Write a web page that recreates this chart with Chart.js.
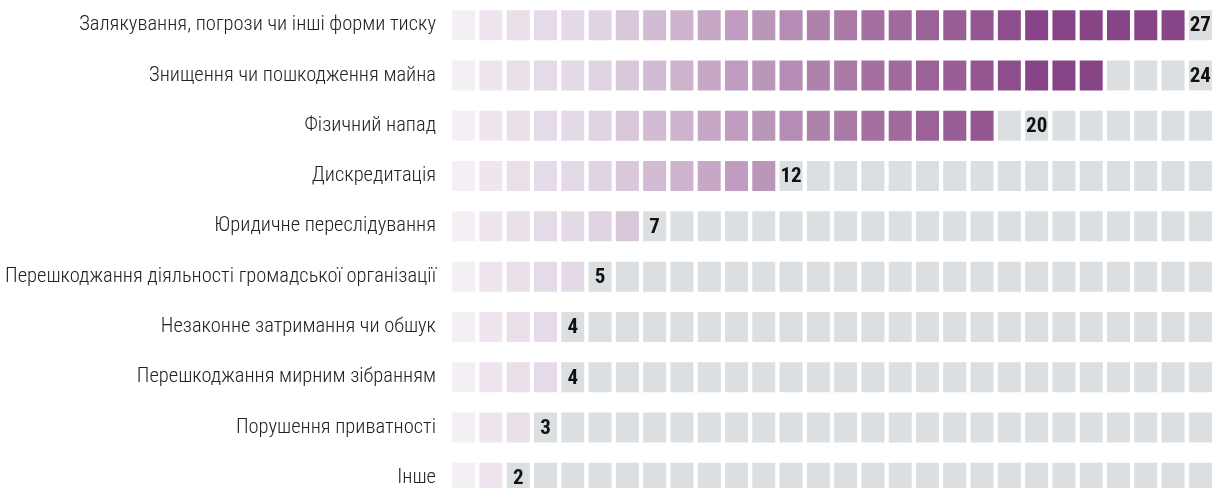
<!DOCTYPE html>
<html>
<head>
<meta charset="utf-8">
<script src="https://cdn.jsdelivr.net/npm/chart.js@4/dist/chart.umd.min.js"></script>
<style>
  html, body { margin: 0; padding: 0; background: #ffffff; overflow: hidden; }
  #wrap { position: relative; width: 1218px; height: 503px; }
</style>
</head>
<body>
<div id="wrap"><canvas id="c"></canvas></div>
<script>
// ---- data ----
const categories = [
  "Залякування, погрози чи інші форми тиску",
  "Знищення чи пошкодження майна",
  "Фізичний напад",
  "Дискредитація",
  "Юридичне переслідування",
  "Перешкоджання діяльності громадської організації",
  "Незаконне затримання чи обшук",
  "Перешкоджання мирним зібранням",
  "Порушення приватності",
  "Інше"
];
const values = [27, 24, 20, 12, 7, 5, 4, 4, 3, 2];
const labelCells = [27, 27, 21, 12, 7, 5, 4, 4, 3, 2];
const totalCells = 28;

// ---- style ----
const palette = [
  "#f4eff4","#efe5ef","#e9dfe9","#e5dae7","#e4dae7","#e0d3e2","#d9c7da","#d3bbd3",
  "#cdb3cc","#c6a8c6","#c09dc0","#ba96b9","#b58db4","#af82ac","#aa7aa7","#a56fa0",
  "#a06a9c","#9b6298","#985e95","#945691","#8d4e8b","#874487","#874487","#874487",
  "#874487","#874487","#874487","#874487"
];
const grey = "#dbdfe2";
const gap = 0.042;
const FONT = '"Roboto Condensed", "DejaVu Sans Condensed", sans-serif';

const datasets = [];
for (let j = 0; j < totalCells; j++) {
  datasets.push({
    data: values.map(() => [j + gap, j + 1 - gap]),
    backgroundColor: values.map(v => j < v ? palette[j] : grey),
    borderColor: "rgba(255,255,255,0.35)",
    borderWidth: 1,
    borderSkipped: false,
    grouped: false,
    barPercentage: 0.636,
    categoryPercentage: 1
  });
}

const valueLabels = {
  id: "valueLabels",
  afterDatasetsDraw(chart) {
    const ctx = chart.ctx;
    const xs = chart.scales.x, ys = chart.scales.y;
    ctx.save();
    ctx.font = "bold 21px " + FONT;
    ctx.fillStyle = "#111111";
    ctx.textAlign = "center";
    ctx.textBaseline = "middle";
    values.forEach((v, i) => {
      const x = xs.getPixelForValue(labelCells[i] + 0.5);
      const y = ys.getPixelForValue(i);
      ctx.fillText(String(v), x, y + 1);
    });
    ctx.restore();
  }
};

new Chart(document.getElementById("c"), {
  type: "bar",
  data: { labels: categories, datasets },
  options: {
    indexAxis: "y",
    responsive: true,
    maintainAspectRatio: false,
    animation: false,
    layout: { padding: { left: 0, right: 4, top: 0, bottom: 0 } },
    plugins: { legend: { display: false }, tooltip: { enabled: false } },
    scales: {
      x: { type: "linear", min: 0, max: totalCells, display: false },
      y: {
        type: "category",
        offset: true,
        grid: { display: false, drawTicks: false },
        border: { display: false },
        afterFit(s) { s.width = 450; s.paddingTop = 0; s.paddingBottom = 0; },
        ticks: {
          padding: 14,
          color: "#222222",
          font: { family: FONT, size: 20.5, weight: "300" }
        }
      }
    }
  },
  plugins: [valueLabels]
});
</script>
</body>
</html>
